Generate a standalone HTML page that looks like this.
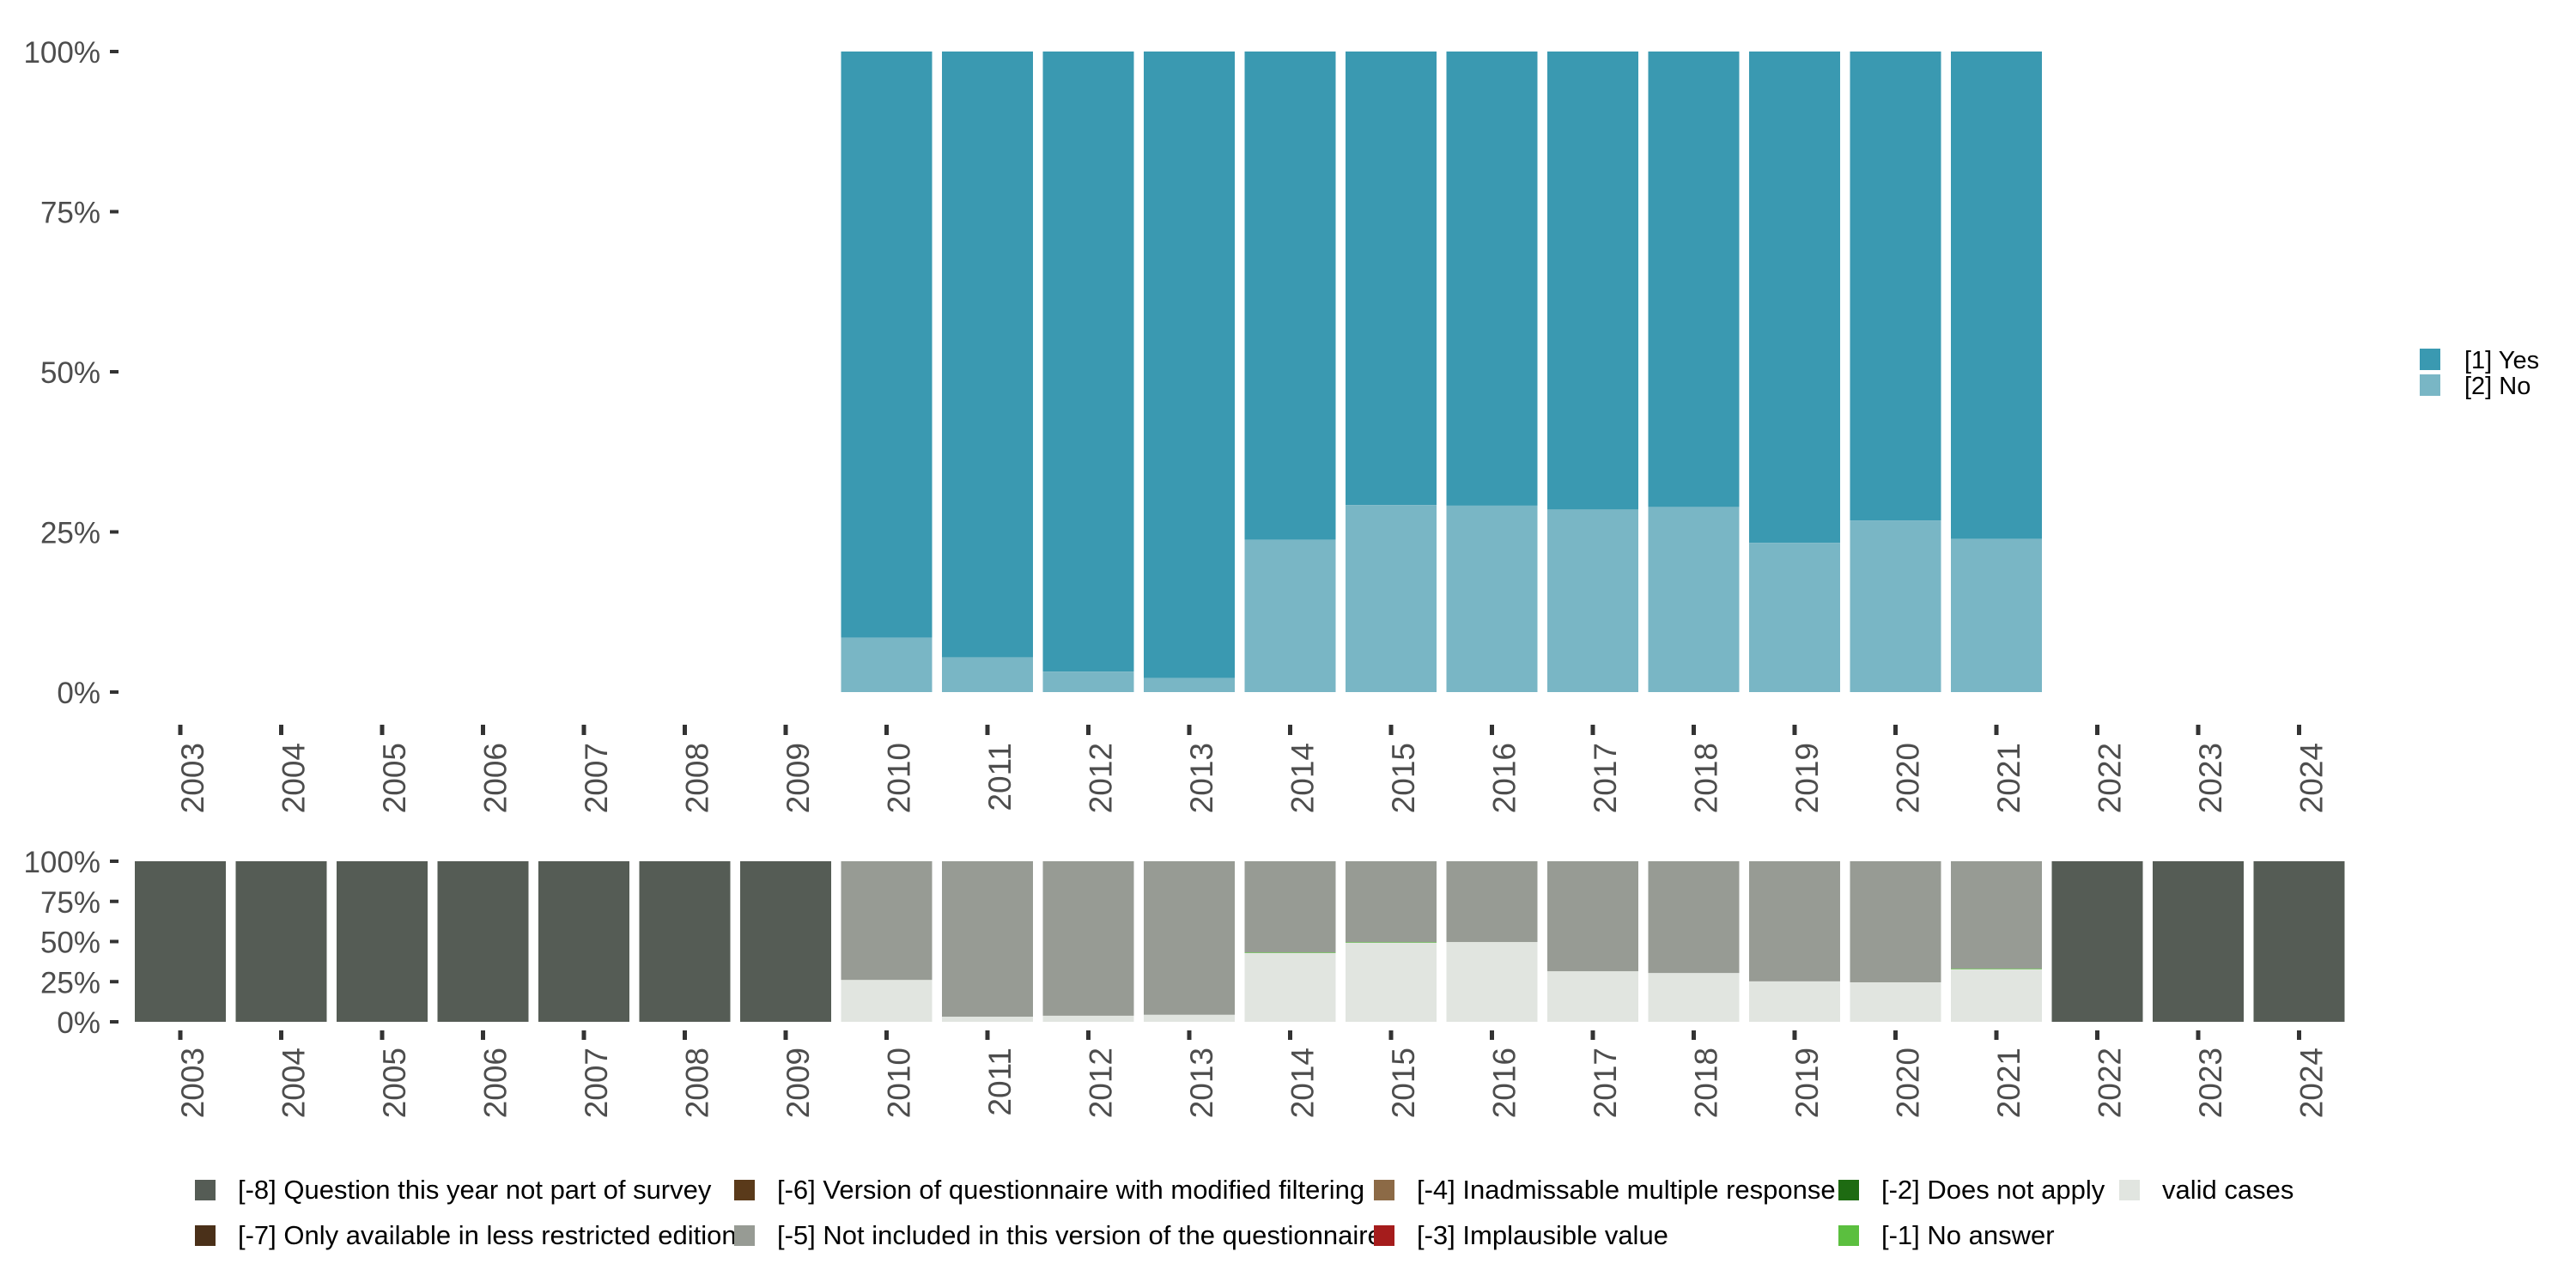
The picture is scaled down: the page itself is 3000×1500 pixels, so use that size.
<!DOCTYPE html>
<html><head><meta charset="utf-8"><style>
html,body{margin:0;padding:0;background:#fff;}
svg{display:block;font-family:"Liberation Sans",sans-serif;}
</style></head><body>
<svg id="chart" width="3000" height="1500" viewBox="0 0 3000 1500" xmlns="http://www.w3.org/2000/svg">
<g id="top"></g>
<g id="bottom"></g>
<g id="legendR"></g>
<g id="legendB"></g>
</svg>
<script>
const years = [2003,2004,2005,2006,2007,2008,2009,2010,2011,2012,2013,2014,2015,2016,2017,2018,2019,2020,2021,2022,2023,2024];
const topYears = [2010,2011,2012,2013,2014,2015,2016,2017,2018,2019,2020,2021];
const noShare = [8.5,5.4,3.2,2.2,23.8,29.2,29.1,28.5,28.9,23.3,26.8,23.9];
const validShare = [0,0,0,0,0,0,0,26.1,3.2,3.8,4.4,42.8,49.2,49.7,31.5,30.4,25.2,24.6,32.7,0,0,0];
const noAnswerShare = [0,0,0,0,0,0,0,0,0,0,0,0.4,0.4,0,0,0,0,0,0.4,0,0,0];
const notIncludedShare = [0,0,0,0,0,0,0,73.9,96.8,96.2,95.6,56.8,50.4,50.3,68.5,69.6,74.8,75.4,66.9,0,0,0];
const notSurveyShare = [100,100,100,100,100,100,100,0,0,0,0,0,0,0,0,0,0,0,0,100,100,100];
const yTicks = [0,25,50,75,100];
const yTickLabels = ["0%","25%","50%","75%","100%"];
const legendRLabels = ["[1] Yes","[2] No"];
const legendBLabels = ["[-8] Question this year not part of survey","[-7] Only available in less restricted edition","[-6] Version of questionnaire with modified filtering","[-5] Not included in this version of the questionnaire","[-4] Inadmissable multiple response","[-3] Implausible value","[-2] Does not apply","[-1] No answer","valid cases"];

const NS="http://www.w3.org/2000/svg";
function mk(tag,attrs,parent){const e=document.createElementNS(NS,tag);for(const k in attrs)e.setAttribute(k,attrs[k]);parent.appendChild(e);return e;}
const x = y => 210 + (y-2003)*117.5;
const BW = 106;
const yTop = v => 806 - v/100*746;
const yBot = v => 1190 - v/100*187;
const C = {yes:"#3a99b1",no:"#79b6c5",dark:"#555c55",gray:"#979b94",valid:"#e1e5e0",na:"#5bbf3f"};

function axes(g, yf, tickY0, tickY1, labelY){
  yTicks.forEach((t,i)=>{
    const yy=yf(t);
    const tk=mk('rect',{x:128,y:yy-2,width:10,height:4,fill:'#333'},g);
    
    
    const tx=mk('text',{x:117,y:yy+13,'text-anchor':'end','font-size':35,fill:'#4d4d4d'},g);
    tx.textContent=yTickLabels[i];
    
    
  });
  years.forEach(yr=>{
    const cx=x(yr);
    const tk=mk('rect',{x:cx-2.5,y:tickY0,width:5,height:tickY1-tickY0,fill:'#333'},g);
    
    
    const tx=mk('text',{x:0,y:0,'text-anchor':'end','font-size':37,fill:'#4d4d4d',transform:`translate(${cx+27},${labelY}) rotate(-90)`},g);
    tx.textContent=String(yr);
    
    
  });
}

const gt=document.getElementById('top');
topYears.forEach((yr,i)=>{
  const x0=x(yr)-BW/2;
  const a=mk('rect',{x:x0,y:yTop(100),width:BW,height:yTop(noShare[i])-yTop(100),fill:C.yes},gt);
  
  
  const b=mk('rect',{x:x0,y:yTop(noShare[i]),width:BW,height:yTop(0)-yTop(noShare[i]),fill:C.no},gt);
  
  
});
axes(gt,yTop,844,856,865);

const gb=document.getElementById('bottom');
years.forEach((yr,i)=>{
  const x0=x(yr)-BW/2;
  let base=0;
  const segs=[[validShare[i],C.valid,'bar-valid'],[noAnswerShare[i],C.na,'bar-no-answer'],[notIncludedShare[i],C.gray,'bar-not-included'],[notSurveyShare[i],C.dark,'bar-not-surveyed']];
  segs.forEach(s=>{
    if(s[0]<=0)return;
    const r=mk('rect',{x:x0,y:yBot(base+s[0]),width:BW,height:yBot(base)-yBot(base+s[0]),fill:s[1]},gb);
    
    
    base+=s[0];
  });
});
axes(gb,yBot,1200,1211,1220);

const gr=document.getElementById('legendR');
[C.yes,C.no].forEach((c,i)=>{
  const r=mk('rect',{x:2818,y:406+i*30,width:24,height:25,fill:c},gr);
  
  
  const t=mk('text',{x:2870,y:429+i*30,'font-size':29,fill:'#000'},gr);
  t.textContent=legendRLabels[i];
  
  
});

const gl=document.getElementById('legendB');
const lbColors=["#555c55","#4a3019","#5a3a1a","#979b94","#8c6a46","#a51c1c","#1e6b12","#5bbf3f","#e1e5e0"];
const colX=[227,855,1600,2141,2468];
legendBLabels.forEach((lab,i)=>{
  const col=Math.floor(i/2), row=i%2;
  const sx=colX[col], sy=1374+row*53;
  const r=mk('rect',{x:sx,y:sy,width:24,height:24,fill:lbColors[i]},gl);
  
  
  const t=mk('text',{x:sx+50,y:sy+22,'font-size':31,fill:'#000'},gl);
  t.textContent=lab;
  
  
});
</script>
</body></html>
